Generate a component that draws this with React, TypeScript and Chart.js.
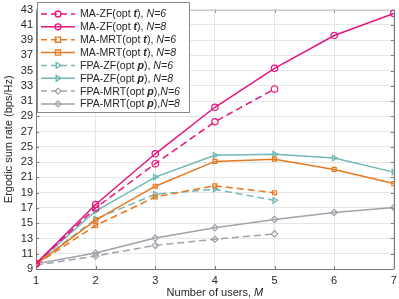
import React, { useEffect, useRef } from "react";
import { Chart, registerables } from "chart.js";

Chart.register(...registerables);

const users = [1, 2, 3, 4, 5, 6, 7];
const maZF6 = [9.7, 17.0, 22.8, 28.3, 32.6];
const maZF8 = [9.7, 17.45, 24.1, 30.2, 35.3, 39.6, 42.5];
const maMRT6 = [9.6, 14.7, 18.45, 19.9, 19.0];
const maMRT8 = [9.6, 15.4, 19.85, 23.1, 23.4, 22.05, 20.2];
const fpaZF6 = [9.7, 15.55, 18.8, 19.45, 18.0];
const fpaZF8 = [9.7, 16.6, 21.05, 23.9, 24.05, 23.55, 21.7];
const fpaMRT6 = [9.5, 10.7, 12.1, 12.9, 13.6];
const fpaMRT8 = [9.7, 11.1, 13.05, 14.4, 15.5, 16.4, 17.05];

const yTicks = [9, 11, 13, 15, 17, 19, 21, 23, 25, 27, 29, 31, 33, 35, 37, 39, 41, 43];

const MAGENTA = "#e5157e";
const ORANGE = "#e8781e";
const TEAL = "#6fb8b6";
const GRAY = "#9ea3ab";
const FONT = "'Liberation Sans', Arial, sans-serif";

type Part = { t: string; s: string };
const legendItems: { parts: Part[]; color: string; dashed: boolean; style: string }[] = [
  { parts: [{ t: "MA-ZF(opt ", s: "" }, { t: "t", s: "italic bold" }, { t: "), ", s: "" }, { t: "N=6", s: "italic" }], color: MAGENTA, dashed: true, style: "circle" },
  { parts: [{ t: "MA-ZF(opt ", s: "" }, { t: "t", s: "italic bold" }, { t: "), ", s: "" }, { t: "N=8", s: "italic" }], color: MAGENTA, dashed: false, style: "circle" },
  { parts: [{ t: "MA-MRT(opt ", s: "" }, { t: "t", s: "italic bold" }, { t: "), ", s: "" }, { t: "N=6", s: "italic" }], color: ORANGE, dashed: true, style: "rect" },
  { parts: [{ t: "MA-MRT(opt ", s: "" }, { t: "t", s: "italic bold" }, { t: "), ", s: "" }, { t: "N=8", s: "italic" }], color: ORANGE, dashed: false, style: "rect" },
  { parts: [{ t: "FPA-ZF(opt ", s: "" }, { t: "p", s: "italic bold" }, { t: "), ", s: "" }, { t: "N=6", s: "italic" }], color: TEAL, dashed: true, style: "triangle" },
  { parts: [{ t: "FPA-ZF(opt ", s: "" }, { t: "p", s: "italic bold" }, { t: "), ", s: "" }, { t: "N=8", s: "italic" }], color: TEAL, dashed: false, style: "triangle" },
  { parts: [{ t: "FPA-MRT(opt ", s: "" }, { t: "p", s: "italic bold" }, { t: "),", s: "" }, { t: "N=6", s: "italic" }], color: GRAY, dashed: true, style: "rectRot" },
  { parts: [{ t: "FPA-MRT(opt ", s: "" }, { t: "p", s: "italic bold" }, { t: "),", s: "" }, { t: "N=8", s: "italic" }], color: GRAY, dashed: false, style: "rectRot" },
];

const seriesValues = [maZF6, maZF8, maMRT6, maMRT8, fpaZF6, fpaZF8, fpaMRT6, fpaMRT8];

function drawMarker(ctx: CanvasRenderingContext2D, style: string, x: number, y: number, r: number) {
  ctx.beginPath();
  if (style === "circle") {
    ctx.arc(x, y, r, 0, Math.PI * 2);
  } else if (style === "rect") {
    ctx.rect(x - r * 0.85, y - r * 0.85, r * 1.7, r * 1.7);
  } else if (style === "triangle") {
    ctx.moveTo(x + r, y);
    ctx.lineTo(x - r * 0.6, y - r);
    ctx.lineTo(x - r * 0.6, y + r);
    ctx.closePath();
  } else {
    ctx.moveTo(x, y - r);
    ctx.lineTo(x + r, y);
    ctx.lineTo(x, y + r);
    ctx.lineTo(x - r, y);
    ctx.closePath();
  }
  ctx.stroke();
}

const decorPlugin = {
  id: "decor",
  beforeDatasetsDraw(chart: any) {
    const { ctx, chartArea: a, scales } = chart;
    ctx.save();
    ctx.strokeStyle = "#777";
    ctx.lineWidth = 1;
    for (const v of yTicks) {
      const y = Math.round(scales.y.getPixelForValue(v)) + 0.5;
      ctx.beginPath();
      ctx.moveTo(a.left, y);
      ctx.lineTo(a.left + 3, y);
      ctx.moveTo(a.right, y);
      ctx.lineTo(a.right - 3, y);
      ctx.stroke();
    }
    for (const v of users) {
      const x = Math.round(scales.x.getPixelForValue(v)) + 0.5;
      ctx.beginPath();
      ctx.moveTo(x, a.bottom);
      ctx.lineTo(x, a.bottom - 3);
      ctx.moveTo(x, a.top);
      ctx.lineTo(x, a.top + 3);
      ctx.stroke();
    }
    ctx.beginPath();
    ctx.moveTo(Math.round(a.right) + 0.5, a.top);
    ctx.lineTo(Math.round(a.right) + 0.5, a.bottom);
    ctx.stroke();
    ctx.strokeStyle = "#c8c8c8";
    ctx.beginPath();
    ctx.moveTo(a.left, Math.round(a.top) + 0.5);
    ctx.lineTo(a.right, Math.round(a.top) + 0.5);
    ctx.stroke();
    ctx.restore();
  },
  afterDraw(chart: any) {
    const { ctx, chartArea: a } = chart;
    ctx.save();
    ctx.fillStyle = "#262626";
    ctx.textBaseline = "middle";
    ctx.font = `11px ${FONT}`;
    ctx.save();
    ctx.translate(9, (a.top + a.bottom) / 2);
    ctx.rotate(-Math.PI / 2);
    ctx.textAlign = "center";
    ctx.fillText("Ergodic sum rate (bps/Hz)", 0, 0);
    ctx.restore();
    const t1 = "Number of users, ";
    ctx.font = `11px ${FONT}`;
    const w1 = ctx.measureText(t1).width;
    ctx.font = `italic 11px ${FONT}`;
    const w2 = ctx.measureText("M").width;
    const cx = (a.left + a.right) / 2;
    const x0 = cx - (w1 + w2) / 2;
    ctx.textAlign = "left";
    ctx.font = `11px ${FONT}`;
    ctx.fillText(t1, x0, 293);
    ctx.font = `italic 11px ${FONT}`;
    ctx.fillText("M", x0 + w1, 293);

    const bx = 37.5, by = 2.5, bw = 152, bh = 110;
    ctx.fillStyle = "#ffffff";
    ctx.fillRect(bx, by, bw, bh);
    ctx.strokeStyle = "#8a8a8a";
    ctx.lineWidth = 1;
    ctx.strokeRect(bx, by, bw, bh);
    legendItems.forEach((it, i) => {
      const y = 14 + i * 12.85;
      ctx.strokeStyle = it.color;
      ctx.lineWidth = 1.5;
      ctx.setLineDash(it.dashed ? [6, 4] : []);
      ctx.beginPath();
      ctx.moveTo(41, y);
      ctx.lineTo(75, y);
      ctx.stroke();
      ctx.setLineDash([]);
      ctx.lineWidth = 1.3;
      drawMarker(ctx, it.style, 58, y, 3);
      let x = 80;
      ctx.fillStyle = "#262626";
      ctx.textAlign = "left";
      ctx.textBaseline = "middle";
      for (const p of it.parts) {
        ctx.font = `${p.s} 10.6px ${FONT}`.trim();
        ctx.fillText(p.t, x, y + 0.5);
        x += ctx.measureText(p.t).width;
      }
    });
    ctx.restore();
  },
};

export default function App() {
  const ref = useRef<HTMLCanvasElement | null>(null);
  useEffect(() => {
    document.body.style.margin = "0";
    const canvas = ref.current!;
    const datasets = legendItems.map((it, i) => ({
      label: it.parts.map((p) => p.t).join(""),
      data: seriesValues[i].map((v, j) => ({ x: users[j], y: v })),
      borderColor: it.color,
      backgroundColor: it.color,
      borderWidth: 1.5,
      borderDash: it.dashed ? [7, 4] : [],
      pointStyle: it.style,
      pointRotation: it.style === "triangle" ? 90 : 0,
      pointRadius: it.style === "rect" ? 2.8 : 3.2,
      pointBorderWidth: 1.2,
      pointBackgroundColor: "rgba(255,255,255,0)",
      pointBorderColor: it.color,
      tension: 0,
      fill: false,
    }));
    const chart = new Chart(canvas, {
      type: "line",
      data: { datasets },
      plugins: [decorPlugin],
      options: {
        animation: false,
        responsive: false,
        layout: { padding: { top: 6, right: -2, left: 0, bottom: 0 } },
        plugins: { legend: { display: false }, tooltip: { enabled: false } },
        scales: {
          x: {
            type: "linear",
            min: 1,
            max: 7,
            border: { color: "#777", width: 1 },
            grid: { color: "#e6e6e6", drawTicks: false },
            ticks: { stepSize: 1, padding: 5, autoSkip: false, maxRotation: 0, color: "#262626", font: { family: FONT, size: 11 } },
            afterFit: (s: any) => { s.height = 30; s.paddingRight = 0; s.paddingLeft = 0; },
          },
          y: {
            type: "linear",
            min: 9,
            max: 43,
            border: { color: "#777", width: 1 },
            grid: { color: "#e6e6e6", drawTicks: false },
            afterBuildTicks: (s: any) => { s.ticks = yTicks.map((v) => ({ value: v })); },
            ticks: { padding: 3, autoSkip: false, color: "#262626", font: { family: FONT, size: 11 } },
            afterFit: (s: any) => { s.width = 36; },
          },
        },
      },
    } as any);
    return () => chart.destroy();
  }, []);
  return <canvas ref={ref} width={399} height={299} style={{ display: "block" }} />;
}
